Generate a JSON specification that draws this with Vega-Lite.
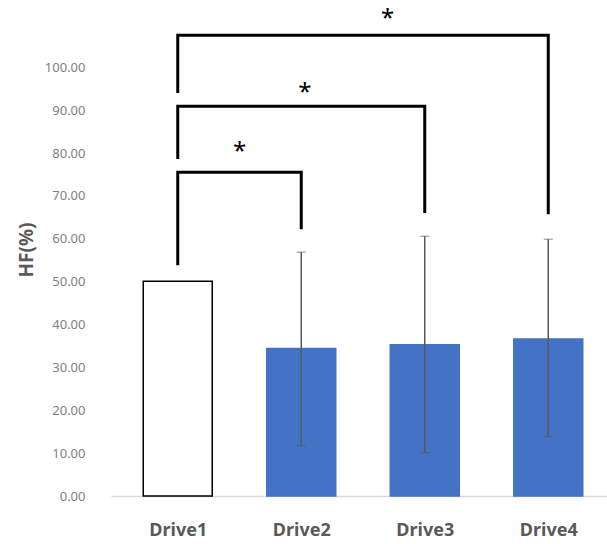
{
  "$schema": "https://vega.github.io/schema/vega-lite/v6.json",
  "autosize": "none",
  "width": 504,
  "height": 493,
  "padding": {"left": 111, "top": 3, "right": 0, "bottom": 48},
  "background": "white",
  "config": {"view": {"stroke": null}, "font": "Noto Sans"},
  "datasets": {
    "bars": [
      {"drive": "Drive1", "i": 1, "hf": 50.1, "lo": null, "hi": null},
      {"drive": "Drive2", "i": 2, "hf": 34.4, "lo": 11.7, "hi": 56.9},
      {"drive": "Drive3", "i": 3, "hf": 35.3, "lo": 10.1, "hi": 60.6},
      {"drive": "Drive4", "i": 4, "hf": 36.6, "lo": 13.8, "hi": 59.9}
    ],
    "brackets": [
      {"pair": "1-2", "k": 0, "i": 1, "v": 53.8},
      {"pair": "1-2", "k": 1, "i": 1, "v": 75.5},
      {"pair": "1-2", "k": 2, "i": 2, "v": 75.5},
      {"pair": "1-2", "k": 3, "i": 2, "v": 62.2},
      {"pair": "1-3", "k": 0, "i": 1, "v": 78.6},
      {"pair": "1-3", "k": 1, "i": 1, "v": 90.9},
      {"pair": "1-3", "k": 2, "i": 3, "v": 90.9},
      {"pair": "1-3", "k": 3, "i": 3, "v": 66.0},
      {"pair": "1-4", "k": 0, "i": 1, "v": 94.0},
      {"pair": "1-4", "k": 1, "i": 1, "v": 107.5},
      {"pair": "1-4", "k": 2, "i": 4, "v": 107.5},
      {"pair": "1-4", "k": 3, "i": 4, "v": 65.7}
    ],
    "stars": [
      {"i": 1.5, "v": 81.4, "label": "*"},
      {"i": 2.03, "v": 95.1, "label": "*"},
      {"i": 2.7, "v": 112.4, "label": "*"}
    ]
  },
  "layer": [
    {
      "data": {"name": "bars"},
      "mark": {"type": "bar", "size": 69, "strokeWidth": 1.5},
      "encoding": {
        "x": {
          "field": "i", "type": "quantitative",
          "scale": {"domain": [0.5, 4.5], "nice": false, "zero": false},
          "axis": {
            "values": [1, 2, 3, 4],
            "labelExpr": "'Drive' + datum.value",
            "title": null,
            "grid": false,
            "ticks": false,
            "domainColor": "#d9d9d9",
            "domainWidth": 1.5,
            "labelColor": "#595959",
            "labelFontSize": 18,
            "labelFontWeight": "bold",
            "labelPadding": 25
          }
        },
        "y": {
          "field": "hf", "type": "quantitative",
          "title": "HF(%)",
          "scale": {"domain": [0, 115], "nice": false},
          "axis": {
            "values": [0, 10, 20, 30, 40, 50, 60, 70, 80, 90, 100],
            "format": ".2f",
            "title": "HF(%)",
            "grid": false,
            "ticks": false,
            "domain": false,
            "labelColor": "#7f7f7f",
            "labelFontSize": 13,
            "labelPadding": 26,
            "titleColor": "#595959",
            "titleFontSize": 19,
            "titleFontWeight": "bold",
            "titlePadding": 8
          }
        },
        "color": {
          "field": "drive", "type": "nominal",
          "scale": {"domain": ["Drive1", "Drive2", "Drive3", "Drive4"], "range": ["#ffffff", "#4472c4", "#4472c4", "#4472c4"]},
          "legend": null
        },
        "stroke": {
          "field": "drive", "type": "nominal",
          "scale": {"domain": ["Drive1", "Drive2", "Drive3", "Drive4"], "range": ["#000000", "#4472c4", "#4472c4", "#4472c4"]},
          "legend": null
        }
      }
    },
    {
      "data": {"name": "bars"},
      "transform": [{"filter": "datum.hi != null"}],
      "mark": {"type": "errorbar", "ticks": {"size": 9, "color": "#595959", "strokeWidth": 1.5}, "rule": {"color": "#595959", "strokeWidth": 1.5}},
      "encoding": {
        "x": {"field": "i", "type": "quantitative"},
        "y": {"field": "lo", "type": "quantitative", "title": "HF(%)"},
        "y2": {"field": "hi"}
      }
    },
    {
      "data": {"name": "brackets"},
      "mark": {"type": "line", "color": "black", "strokeWidth": 3, "strokeJoin": "miter", "strokeCap": "butt"},
      "encoding": {
        "x": {"field": "i", "type": "quantitative"},
        "y": {"field": "v", "type": "quantitative", "title": "HF(%)"},
        "detail": {"field": "pair"},
        "order": {"field": "k"}
      }
    },
    {
      "data": {"name": "stars"},
      "mark": {"type": "text", "fontSize": 24, "color": "black", "baseline": "middle", "dy": 5},
      "encoding": {
        "x": {"field": "i", "type": "quantitative"},
        "y": {"field": "v", "type": "quantitative", "title": "HF(%)"},
        "text": {"field": "label"}
      }
    }
  ]
}
